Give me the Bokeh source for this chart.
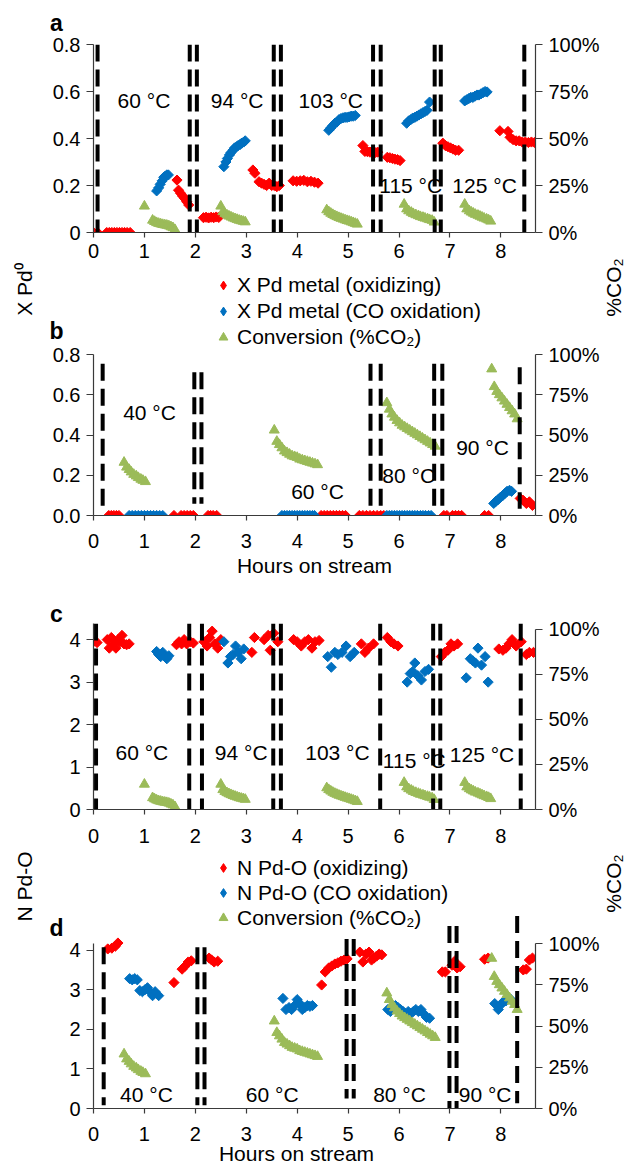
import math
from bokeh.plotting import figure
from bokeh.models import (Range1d, LinearAxis, FixedTicker, Label, Legend, LegendItem,
                          GridBox)
from bokeh.layouts import column
from bokeh.embed import file_html
from bokeh.resources import INLINE
from bokeh.core.properties import value

# ---------------- DATA ----------------
hour_ticks = [0, 1, 2, 3, 4, 5, 6, 7, 8]
pct_ticks = [0, 0.25, 0.5, 0.75, 1.0]
pct_labels = ["0%", "25%", "50%", "75%", "100%"]

# Panel a: X Pd0 (60-125 C experiment)
a_ox_x = [0.0, 0.08, 0.26, 0.31, 0.36, 0.41, 0.46, 0.51, 0.56, 0.61, 0.66, 0.72,
          1.64, 1.67, 1.71, 1.75, 1.79, 1.83, 1.87,
          2.16, 2.21, 2.26, 2.31, 2.36, 2.41, 2.46,
          3.13, 3.17, 3.25, 3.3, 3.35, 3.4, 3.45, 3.5, 3.55, 3.6, 3.65,
          3.92, 3.99, 4.06, 4.13, 4.2, 4.27, 4.34, 4.41,
          5.29, 5.33, 5.38, 5.43, 5.48, 5.53, 5.58,
          5.77, 5.82, 5.87, 5.92, 5.97, 6.02,
          6.86, 6.91, 6.96, 7.01, 7.06, 7.11, 7.17,
          7.98, 8.14, 8.18, 8.24, 8.3, 8.36, 8.42, 8.48, 8.54, 8.6, 8.66]
a_ox_y = [0, 0, 0, 0, 0, 0, 0, 0, 0, 0, 0, 0,
          0.223, 0.18, 0.167, 0.155, 0.145, 0.131, 0.117,
          0.063, 0.065, 0.062, 0.065, 0.063, 0.066, 0.064,
          0.266, 0.252, 0.216, 0.21, 0.205, 0.2, 0.21, 0.2, 0.2, 0.195, 0.2,
          0.22, 0.218, 0.22, 0.222, 0.216, 0.218, 0.214, 0.21,
          0.37, 0.345, 0.344, 0.342, 0.345, 0.34, 0.342,
          0.32, 0.318, 0.315, 0.312, 0.31, 0.306,
          0.38, 0.37, 0.365, 0.36, 0.355, 0.35, 0.35,
          0.433, 0.43, 0.405, 0.395, 0.39, 0.39, 0.385, 0.385, 0.383, 0.385, 0.383]
a_co_x = [1.24, 1.28, 1.31, 1.35, 1.38, 1.41, 1.44, 1.47,
          2.56, 2.6, 2.63, 2.67, 2.7, 2.74, 2.77, 2.81, 2.84, 2.88, 2.91, 2.95, 2.98,
          4.62, 4.66, 4.7, 4.74, 4.78, 4.82, 4.86, 4.9, 4.94, 4.98, 5.02, 5.06, 5.1, 5.14,
          6.15, 6.19, 6.23, 6.27, 6.31, 6.35, 6.39, 6.43, 6.47, 6.51, 6.55, 6.6,
          7.29, 7.33, 7.37, 7.41, 7.45, 7.49, 7.53, 7.57, 7.61, 7.65, 7.69, 7.73]
a_co_y = [0.177, 0.19, 0.205, 0.22, 0.235, 0.24, 0.245, 0.245,
          0.28, 0.3, 0.315, 0.33, 0.34, 0.35, 0.36, 0.365, 0.37, 0.375, 0.38, 0.385, 0.39,
          0.435, 0.445, 0.455, 0.465, 0.47, 0.48, 0.485, 0.488, 0.49, 0.49, 0.492, 0.495, 0.495, 0.498,
          0.465, 0.475, 0.48, 0.487, 0.49, 0.495, 0.5, 0.505, 0.51, 0.515, 0.52, 0.555,
          0.56, 0.565, 0.57, 0.575, 0.575, 0.58, 0.585, 0.585, 0.59, 0.595, 0.6, 0.598]

# Conversion (%CO2) for the 60-125 C experiment (panels a and c)
conv1_x = [1.0, 1.16, 1.2, 1.24, 1.28, 1.32, 1.36, 1.4, 1.44, 1.48, 1.52, 1.56, 1.6,
           2.5, 2.54, 2.58, 2.62, 2.66, 2.7, 2.74, 2.78, 2.82, 2.86, 2.9, 2.94, 2.98,
           4.58, 4.62, 4.66, 4.7, 4.74, 4.78, 4.82, 4.86, 4.9, 4.94, 4.98, 5.02, 5.06, 5.1, 5.14, 5.18,
           6.1, 6.15, 6.19, 6.24, 6.28, 6.33, 6.38, 6.42, 6.47, 6.51, 6.56, 6.6, 6.65, 6.69,
           7.29, 7.33, 7.38, 7.42, 7.46, 7.5, 7.55, 7.59, 7.63, 7.67, 7.72, 7.76, 7.8]
conv1_pct = [14, 6.5, 5.8, 5.2, 4.8, 4.5, 4.2, 4.0, 3.8, 3.5, 3.0, 2.5, 1.5,
             14, 11, 10, 9.3, 8.7, 8.2, 7.7, 7.3, 6.9, 6.5, 6.2, 5.9, 5.6,
             12, 11, 10.2, 9.5, 8.9, 8.4, 7.9, 7.5, 7.1, 6.7, 6.3, 6.0, 5.6, 5.2, 4.8, 4.4,
             15, 12.5, 11.5, 10.7, 10, 9.4, 8.9, 8.4, 8.0, 7.6, 7.2, 6.8, 6.4, 5.5,
             15, 12.5, 11.5, 10.8, 10.2, 9.6, 9.1, 8.6, 8.1, 7.6, 7.1, 6.6, 6.0]

# Panel b: X Pd0 (40-90 C experiment)
b_ox_x = [0.3, 0.35, 0.4, 0.45, 0.5,
          1.58, 1.72, 1.78, 1.84, 1.9, 1.96,
          2.25, 2.3, 2.35, 2.42,
          4.47, 4.53, 4.59, 4.65, 4.71, 4.77, 4.83, 4.89, 4.95,
          5.22, 5.29, 5.36, 5.43, 5.5, 5.57, 5.64, 5.7,
          6.88, 6.94, 7.05, 7.11, 7.17, 7.23,
          7.68, 7.76,
          8.38, 8.44, 8.5, 8.56, 8.62]
b_ox_y = [0, 0, 0, 0, 0,
          0, 0, 0, 0, 0, 0,
          0, 0, 0, 0,
          0, 0, 0, 0, 0, 0, 0, 0, 0,
          0, 0, 0, 0, 0, 0, 0, 0,
          0, 0, 0, 0, 0, 0,
          0, 0,
          0.085, 0.075, 0.06, 0.068, 0.05]
b_co_x = [0.7, 0.76, 0.82, 0.88, 0.94, 1.0, 1.06, 1.12, 1.18, 1.24, 1.3, 1.36,
          3.7, 3.75, 3.8, 3.85, 3.9, 3.95, 4.0, 4.05, 4.1, 4.15, 4.2, 4.25, 4.3, 4.34,
          5.76, 5.81, 5.86, 5.91, 5.96, 6.01, 6.06, 6.11, 6.16, 6.21, 6.26, 6.31, 6.36, 6.42,
          6.47, 6.52, 6.58, 6.63,
          7.86, 7.9, 7.95, 7.99, 8.04, 8.08, 8.12, 8.17, 8.21]
b_co_y = [0, 0, 0, 0, 0, 0, 0, 0, 0, 0, 0, 0,
          0, 0, 0, 0, 0, 0, 0, 0, 0, 0, 0, 0, 0, 0,
          0, 0, 0, 0, 0, 0, 0, 0, 0, 0, 0, 0, 0, 0,
          0, 0, 0, 0,
          0.06, 0.07, 0.08, 0.09, 0.1, 0.11, 0.12, 0.125, 0.12]

# Conversion (%CO2) for the 40-90 C experiment (panels b and d)
conv2_x = [0.6, 0.65, 0.7, 0.74, 0.79, 0.84, 0.88, 0.93, 0.97, 1.02,
           3.55, 3.6, 3.65, 3.7, 3.75, 3.8, 3.85, 3.9, 3.95, 4.0, 4.05, 4.1, 4.15, 4.2, 4.25, 4.3, 4.35, 4.4,
           5.76, 5.81, 5.86, 5.91, 5.96, 6.01, 6.06, 6.11, 6.16, 6.21, 6.26, 6.31, 6.36, 6.41, 6.46, 6.51,
           6.56, 6.61, 6.66, 6.71,
           7.82, 7.87, 7.92, 7.97, 8.02, 8.07, 8.12, 8.17, 8.22, 8.27, 8.32]
conv2_pct = [33, 30, 28.5, 27, 25.5, 24.5, 23.5, 22.5, 21.8, 21,
             53, 46, 44, 42, 40, 39, 38, 37, 36.5, 36, 35, 34.5, 34, 33.5, 33, 32.5, 32, 31.5,
             70, 66, 63, 61, 59, 57.5, 56, 55, 54, 53, 52, 51, 50, 49, 48, 47,
             46, 45, 44, 43,
             91, 80, 77, 75, 73, 71, 69, 67, 65, 63, 60]

# Panel c: N Pd-O (60-125 C experiment)
c_ox_x = [0.0, 0.07, 0.27, 0.31, 0.35, 0.39, 0.44, 0.48, 0.52, 0.56, 0.6, 0.65, 0.7,
          1.63, 1.68, 1.73, 1.78, 1.83, 1.9, 1.96,
          2.17, 2.23, 2.28, 2.33, 2.38, 2.44, 2.5,
          3.11, 3.16, 3.35, 3.43, 3.47, 3.54, 3.62,
          3.93, 4.0, 4.08, 4.15, 4.22, 4.29, 4.35, 4.43,
          5.26, 5.33, 5.4, 5.5,
          5.77, 5.84, 5.9, 5.98,
          6.83, 6.9, 6.96, 7.02, 7.08, 7.15,
          7.96, 8.04, 8.1, 8.16, 8.22, 8.3, 8.4, 8.5, 8.56, 8.64]
c_ox_y = [3.95, 3.93, 4.0, 3.8, 4.05, 3.9, 3.8, 4.0, 3.95, 4.1, 3.9, 3.88, 3.9,
          3.88, 3.95, 3.9, 4.0, 3.9, 3.95, 3.92,
          3.95, 3.85, 4.05, 4.2, 3.9, 3.8, 4.0,
          3.7, 4.05, 4.0, 4.1, 3.75, 4.15, 3.95,
          4.0, 3.95, 3.85, 3.95, 4.0, 3.8, 3.95, 3.98,
          3.9, 3.7, 3.8, 3.9,
          4.05, 3.95, 3.9, 3.85,
          3.6, 3.7, 3.75, 3.9, 3.85, 3.9,
          3.78, 3.75, 3.8, 3.9, 4.0, 3.85, 3.95, 3.65, 3.7, 3.7]
c_co_x = [1.24, 1.28, 1.32, 1.36, 1.4, 1.44, 1.48,
          2.56, 2.64, 2.69, 2.74, 2.79, 2.84, 2.9, 2.95,
          4.6, 4.67, 4.74, 4.8, 4.88, 4.96, 5.04, 5.12,
          6.16, 6.22, 6.27, 6.31, 6.37, 6.44, 6.51, 6.58,
          7.32, 7.4, 7.45, 7.5, 7.55, 7.62, 7.69, 7.75]
c_co_y = [3.72, 3.65, 3.6, 3.7, 3.6, 3.55, 3.62,
          3.95, 3.45, 3.6, 3.65, 3.85, 3.7, 3.55, 3.78,
          3.6, 3.35, 3.7, 3.65, 3.7, 3.85, 3.6, 3.7,
          3.0, 3.2, 3.25, 3.45, 3.15, 3.05, 3.25, 3.3,
          3.1, 3.55, 3.5, 3.45, 3.8, 3.4, 3.6, 3.0]

# Panel d: N Pd-O (40-90 C experiment)
d_ox_x = [0.28, 0.36, 0.43, 0.48,
          1.58, 1.74, 1.8, 1.86, 1.92,
          2.27, 2.32, 2.37, 2.44,
          4.48, 4.55, 4.62, 4.68, 4.74, 4.8, 4.86, 4.92, 4.98,
          5.23, 5.29, 5.35, 5.41, 5.46, 5.51, 5.56, 5.61, 5.66,
          6.85, 6.91, 7.04, 7.09, 7.14, 7.2,
          7.68, 7.75,
          8.44, 8.5, 8.56, 8.62]
d_ox_y = [4.03, 4.05, 4.1, 4.18,
          3.18, 3.52, 3.6, 3.7, 3.73,
          3.8, 3.75, 3.7, 3.72,
          3.12, 3.45, 3.55, 3.6, 3.65, 3.68, 3.72, 3.75, 3.78,
          3.95, 3.7, 3.9, 3.95, 3.75, 3.8, 3.85, 3.9, 3.88,
          3.45, 3.45, 3.62, 3.72, 3.55, 3.58,
          3.77, 3.8,
          3.5, 3.52, 3.75, 3.8]
d_co_x = [0.71, 0.76, 0.81, 0.86, 0.91, 0.96, 1.01, 1.06, 1.11, 1.16, 1.21, 1.28,
          3.72, 3.78, 3.84, 3.89, 3.95, 4.0, 4.05, 4.1, 4.15, 4.2, 4.25, 4.3,
          5.78, 5.83, 5.88, 5.93, 5.98, 6.03, 6.08, 6.13, 6.18, 6.23, 6.28, 6.33, 6.38, 6.43,
          6.48, 6.54, 6.6,
          7.88, 7.95, 8.0, 8.05, 8.1, 8.15, 8.2]
d_co_y = [3.28, 3.25, 3.28, 3.25, 2.98, 2.95, 3.0, 3.05, 2.95, 2.85, 2.95, 2.85,
          2.78, 2.5, 2.55, 2.5, 2.6, 2.75, 2.65, 2.5, 2.55, 2.6, 2.58, 2.6,
          2.5, 2.45, 2.55, 2.6, 2.55, 2.5, 2.45, 2.4, 2.45, 2.4, 2.45, 2.5, 2.45, 2.5,
          2.4, 2.3, 2.28,
          2.65, 2.5, 2.62, 2.7, 2.72, 2.8, 2.75]

# Switch-over times (dashed separators)
a_sw_x = [0.08, 1.89, 2.03, 3.54, 3.68, 5.49, 5.64, 6.7, 6.82, 8.46]
a_sw_top = [0.8] * 10
a_sw_bot = [0.0] * 10
b_sw_x = [0.18, 1.98, 2.12, 5.44, 5.64, 6.69, 6.85, 8.37]
b_sw_top = [0.754, 0.712, 0.712, 0.754, 0.754, 0.754, 0.754, 0.737]
b_sw_bot = [0.017, 0.058, 0.058, 0.017, 0.017, 0.017, 0.017, 0.033]
c_sw_x = [0.05, 1.88, 2.13, 3.53, 3.68, 5.63, 6.67, 6.81, 8.39]
c_sw_top = [4.38] * 9
c_sw_bot = [0.0] * 9
d_sw_x = [0.2, 2.04, 2.18, 4.97, 5.11, 6.99, 7.13, 8.32]
d_sw_top = [4.07, 4.07, 4.07, 4.28, 4.28, 4.61, 4.61, 4.86]
d_sw_bot = [0.08, 0.08, 0.08, 0.25, 0.25, 0.0, 0.0, 0.13]

# Temperature annotations
a_temp = ["60 °C", "94 °C", "103 °C", "115 °C", "125 °C"]
a_temp_x = [0.99, 2.82, 4.66, 6.23, 7.68]
a_temp_y = [0.562, 0.562, 0.562, 0.202, 0.202]
b_temp = ["40 °C", "60 °C", "80 °C", "90 °C"]
b_temp_x = [1.1, 4.4, 6.19, 7.64]
b_temp_y = [0.513, 0.121, 0.199, 0.34]
c_temp = ["60 °C", "94 °C", "103 °C", "115 °C", "125 °C"]
c_temp_x = [0.95, 2.9, 4.79, 6.3, 7.63]
c_temp_y = [1.34, 1.34, 1.34, 1.15, 1.29]
d_temp = ["40 °C", "60 °C", "80 °C", "90 °C"]
d_temp_x = [1.04, 3.51, 6.01, 7.69]
d_temp_y = [0.36, 0.36, 0.36, 0.36]

legend_ab = ["X Pd metal (oxidizing)", "X Pd metal (CO oxidation)", "Conversion (%CO\u2082)"]
legend_cd = ["N Pd-O (oxidizing)", "N Pd-O (CO oxidation)", "Conversion (%CO\u2082)"]

# ---------------- STYLE ----------------
FONT = "Liberation Sans"
RED = "#FF0000"
BLUE = "#0070C0"
GREEN = "#9BBB59"
AXIS_COL = "#3a3a3a"
X_END = 8.68
FRAME_W = 442
BL = 93
BR = 95
PAGE_W = 630
PAGE_H = 1167


def make_panel(frame_h, top, bottom, ymax, lticks, llabels, lbound, pct_end, standoff):
    p = figure(frame_width=FRAME_W, frame_height=frame_h,
               min_border_left=BL, min_border_right=BR,
               min_border_top=top, min_border_bottom=bottom,
               x_range=Range1d(0, X_END), y_range=Range1d(0, ymax),
               output_backend="svg", toolbar_location=None)
    p.outline_line_color = None
    p.grid.visible = False
    p.background_fill_color = "white"
    p.border_fill_color = "white"
    p.extra_y_ranges = {"pct": Range1d(0, pct_end)}

    xa = p.xaxis[0]
    xa.ticker = FixedTicker(ticks=hour_ticks)
    ya = p.yaxis[0]
    ya.ticker = FixedTicker(ticks=lticks)
    ya.major_label_overrides = {t: l for t, l in zip(lticks, llabels)}
    ya.bounds = (0, lbound)

    ra = LinearAxis(y_range_name="pct", ticker=FixedTicker(ticks=pct_ticks),
                    major_label_overrides={t: l for t, l in zip(pct_ticks, pct_labels)},
                    bounds=(0, 1))
    p.add_layout(ra, "right")

    for ax in (xa, ya, ra):
        ax.axis_line_color = AXIS_COL
        ax.axis_line_width = 1.2
        ax.major_tick_line_color = AXIS_COL
        ax.major_tick_line_width = 1.2
        ax.major_tick_out = 7
        ax.major_tick_in = 0
        ax.minor_tick_line_color = None
        ax.major_label_text_font = FONT
        ax.major_label_text_font_size = "20px"
        ax.major_label_text_color = "black"
        ax.major_label_standoff = 6
    xa.major_tick_out = 5
    xa.major_label_standoff = standoff
    return p


def add_series(p, ox_x, ox_y, co_x, co_y, cv_x, cv_pct, sw_x, sw_top, sw_bot,
               t_text, t_x, t_y):
    p.text(x=t_x, y=t_y, text=t_text, text_align="center", text_baseline="middle",
           text_font=value(FONT), text_font_size="21px", text_color="black")
    p.scatter(ox_x, ox_y, marker="square", angle=math.pi / 4, size=7.2,
              fill_color=RED, line_color=RED)
    p.scatter(co_x, co_y, marker="square", angle=math.pi / 4, size=7.2,
              fill_color=BLUE, line_color=BLUE)
    p.scatter(cv_x, [v / 100.0 for v in cv_pct], y_range_name="pct",
              marker="triangle", size=10, fill_color=GREEN, line_color=GREEN)
    p.segment(x0=sw_x, y0=sw_top, x1=sw_x, y1=sw_bot, line_color="black",
              line_width=4, line_dash="17 8")


# ---- panel a ----
pa = make_panel(188, 44, 34, 0.8, [0, 0.2, 0.4, 0.6, 0.8],
                ["0", "0.2", "0.4", "0.6", "0.8"], 0.8, 1.0, 6)
add_series(pa, a_ox_x, a_ox_y, a_co_x, a_co_y, conv1_x, conv1_pct,
           a_sw_x, a_sw_top, a_sw_bot, a_temp, a_temp_x, a_temp_y)

# ---- panel b ----
pb = make_panel(161, 88, 69, 0.8, [0, 0.2, 0.4, 0.6, 0.8],
                ["0.0", "0.2", "0.4", "0.6", "0.8"], 0.8, 1.0, 13)
add_series(pb, b_ox_x, b_ox_y, b_co_x, b_co_y, conv2_x, conv2_pct,
           b_sw_x, b_sw_top, b_sw_bot, b_temp, b_temp_x, b_temp_y)
pb.xaxis[0].axis_label = "Hours on stream"
pb.xaxis[0].axis_label_text_font = FONT
pb.xaxis[0].axis_label_text_font_size = "21px"
pb.xaxis[0].axis_label_text_font_style = "normal"
pb.xaxis[0].axis_label_text_color = "black"
pb.xaxis[0].axis_label_standoff = 3

# ---- panel c ----
pc = make_panel(186, 39, 43, 4.38, [0, 1, 2, 3, 4], ["0", "1", "2", "3", "4"],
                4.38, 1.033, 14)
add_series(pc, c_ox_x, c_ox_y, c_co_x, c_co_y, conv1_x, conv1_pct,
           c_sw_x, c_sw_top, c_sw_bot, c_temp, c_temp_x, c_temp_y)

# ---- panel d ----
pd_ = make_panel(194, 62, 59, 4.9, [0, 1, 2, 3, 4], ["0", "1", "2", "3", "4"],
                 4.17, 1.176, 13)
add_series(pd_, d_ox_x, d_ox_y, d_co_x, d_co_y, conv2_x, conv2_pct,
           d_sw_x, d_sw_top, d_sw_bot, d_temp, d_temp_x, d_temp_y)

# ---- overlay for texts and legends that sit between the panels (page pixels) ----
ov = figure(width=PAGE_W, height=PAGE_H, x_range=Range1d(0, PAGE_W),
            y_range=Range1d(PAGE_H, 0), min_border=0, output_backend="svg",
            toolbar_location=None, x_axis_location=None, y_axis_location=None)
ov.outline_line_color = None
ov.grid.visible = False
ov.background_fill_alpha = 0
ov.border_fill_alpha = 0


def ov_label(text, px, py, size, angle=0.0, bold=False):
    ov.add_layout(Label(x=px, y=py, text=text, angle=angle,
                        text_align="center", text_baseline="middle",
                        text_font=FONT, text_font_size=size,
                        text_font_style="bold" if bold else "normal",
                        text_color="black"))


for letter, ly in (("a", 22), ("b", 330), ("c", 613), ("d", 927)):
    ov_label(letter, 56, ly, "23px", bold=True)
ov_label("X Pd\u2070", 24, 289, "21px", angle=math.pi / 2)
ov_label("%CO\u2082", 613, 287, "21px", angle=math.pi / 2)
ov_label("N Pd-O", 24, 886, "21px", angle=math.pi / 2)
ov_label("%CO\u2082", 613, 883, "21px", angle=math.pi / 2)
ov_label("Hours on stream", 296, 1153, "21px")

# legend proxies: one undefined (NaN) point each, nothing is drawn in the overlay
nan = float("nan")
g_ox = ov.scatter([nan], [nan], marker="diamond", size=10,
                  fill_color=RED, line_color=RED)
g_co = ov.scatter([nan], [nan], marker="diamond", size=10,
                  fill_color=BLUE, line_color=BLUE)
g_cv = ov.scatter([nan], [nan], marker="triangle", size=10,
                  fill_color=GREEN, line_color=GREEN)


def add_legend(labels, left, bottom, row_h):
    lg = Legend(items=[LegendItem(label=labels[0], renderers=[g_ox]),
                       LegendItem(label=labels[1], renderers=[g_co]),
                       LegendItem(label=labels[2], renderers=[g_cv])],
                location=(left, PAGE_H - bottom), orientation="vertical",
                padding=0, margin=0, spacing=0, glyph_width=22, glyph_height=row_h,
                label_height=row_h, label_standoff=3,
                label_text_font=FONT, label_text_font_size="21px",
                label_text_color="black",
                border_line_color=None, background_fill_alpha=0)
    ov.add_layout(lg)


add_legend(legend_ab, 212, 350, 26)
add_legend(legend_cd, 212, 930, 25)

panels = column(pa, pb, pc, pd_, spacing=0)
layout = GridBox(children=[(panels, 0, 0), (ov, 0, 0)])
open("out.html", "w").write(file_html(layout, INLINE))
